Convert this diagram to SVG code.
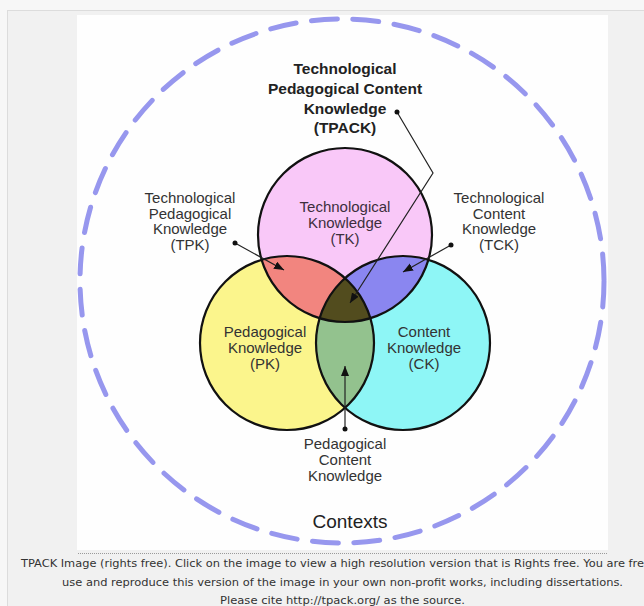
<svg xmlns="http://www.w3.org/2000/svg" width="644" height="606" viewBox="0 0 644 606">
<style>
.lbl{font-family:"Liberation Sans",Arial,sans-serif;font-size:15px;fill:#333;text-anchor:middle}
.ttl{font-family:"Liberation Sans",Arial,sans-serif;font-size:15.5px;font-weight:bold;fill:#222;text-anchor:middle}
.cap{font-family:"DejaVu Sans","Liberation Sans",sans-serif;font-size:11px;fill:#333}
.venn{fill:none;stroke:#111;stroke-width:2.2}
.conn{fill:none;stroke:#222;stroke-width:1.2}
</style>
<defs>
<marker id="ah" markerUnits="userSpaceOnUse" markerWidth="11" markerHeight="9" refX="10" refY="4" orient="auto">
<path d="M0,0 L10,4 L0,8 z" fill="#111"/>
</marker>
<clipPath id="cT"><circle cx="345" cy="235" r="87"/></clipPath>
<clipPath id="cP"><circle cx="287" cy="343" r="87"/></clipPath>
<clipPath id="cC"><circle cx="403" cy="343" r="87"/></clipPath>
</defs>
<rect x="0" y="0" width="644" height="606" fill="#f7f7f7"/>
<rect x="7.5" y="10.5" width="640" height="600" fill="#f1f1f1" stroke="#dcdcdc"/>
<rect x="77" y="15" width="531" height="535" fill="#fefefe"/>
<g id="contexts">
<circle cx="342" cy="281" r="262" fill="none" stroke="#9797ee" stroke-width="5" stroke-dasharray="26 15.5" stroke-linecap="round"/>
<text x="350" y="528" style="font-family:'Liberation Sans',Arial,sans-serif;font-size:19px;fill:#222;text-anchor:middle">Contexts</text>
</g>
<g id="tk">
<circle cx="345" cy="235" r="87" fill="#f9c8f8"/>
</g>
<g id="pk">
<circle cx="287" cy="343" r="87" fill="#fbf58c"/>
</g>
<g id="ck">
<circle cx="403" cy="343" r="87" fill="#8ef6f6"/>
</g>
<g id="tpk">
<circle cx="287" cy="343" r="87" fill="#f2857f" clip-path="url(#cT)"/>
</g>
<g id="tck">
<circle cx="403" cy="343" r="87" fill="#8a86f0" clip-path="url(#cT)"/>
</g>
<g id="pck">
<circle cx="403" cy="343" r="87" fill="#93c28e" clip-path="url(#cP)"/>
</g>
<g id="tpack">
<g clip-path="url(#cT)"><circle cx="403" cy="343" r="87" fill="#524c1e" clip-path="url(#cP)"/></g>
</g>
<g id="outlines">
<circle class="venn" cx="345" cy="235" r="87"/>
<circle class="venn" cx="287" cy="343" r="87"/>
<circle class="venn" cx="403" cy="343" r="87"/>
</g>
<g id="labels">
<text class="ttl"><tspan x="345" y="74">Technological</tspan><tspan x="345" y="94">Pedagogical Content</tspan><tspan x="345" y="114">Knowledge</tspan><tspan x="345" y="133">(TPACK)</tspan></text>
<text class="lbl"><tspan x="190" y="203">Technological</tspan><tspan x="190" y="218.5">Pedagogical</tspan><tspan x="190" y="234">Knowledge</tspan><tspan x="190" y="249.5">(TPK)</tspan></text>
<text class="lbl" style="fill:#3d2f3d"><tspan x="345" y="212">Technological</tspan><tspan x="345" y="228">Knowledge</tspan><tspan x="345" y="244">(TK)</tspan></text>
<text class="lbl"><tspan x="499" y="203">Technological</tspan><tspan x="499" y="218.5">Content</tspan><tspan x="499" y="234">Knowledge</tspan><tspan x="499" y="249.5">(TCK)</tspan></text>
<text class="lbl"><tspan x="265" y="337">Pedagogical</tspan><tspan x="265" y="353">Knowledge</tspan><tspan x="265" y="369">(PK)</tspan></text>
<text class="lbl"><tspan x="424" y="337">Content</tspan><tspan x="424" y="353">Knowledge</tspan><tspan x="424" y="369">(CK)</tspan></text>
<text class="lbl"><tspan x="345" y="449">Pedagogical</tspan><tspan x="345" y="465">Content</tspan><tspan x="345" y="481">Knowledge</tspan></text>
</g>
<g id="connectors">
<polyline class="conn" points="397,112 433,173 350,303" marker-end="url(#ah)"/>
<circle cx="397" cy="112" r="2.5" fill="#111"/>
<line class="conn" x1="235" y1="243" x2="284" y2="270" marker-end="url(#ah)"/>
<circle cx="235" cy="243" r="2.5" fill="#111"/>
<line class="conn" x1="451" y1="245" x2="403" y2="272" marker-end="url(#ah)"/>
<circle cx="451" cy="245" r="2.5" fill="#111"/>
<line class="conn" x1="345" y1="429" x2="345" y2="366" marker-end="url(#ah)"/>
<circle cx="345" cy="429" r="2.5" fill="#111"/>
</g>
<g id="caption">
<line x1="78" y1="553.5" x2="608" y2="553.5" stroke="#9a9a9a" stroke-width="1" stroke-dasharray="1 1"/>
<text class="cap" x="21" y="567" textLength="630" lengthAdjust="spacingAndGlyphs">TPACK Image (rights free). Click on the image to view a high resolution version that is Rights free. You are free</text>
<text class="cap" x="62" y="586" textLength="561" lengthAdjust="spacingAndGlyphs">use and reproduce this version of the image in your own non-profit works, including dissertations.</text>
<text class="cap" x="220" y="604" textLength="245" lengthAdjust="spacingAndGlyphs">Please cite http://tpack.org/ as the source.</text>
</g>
</svg>
